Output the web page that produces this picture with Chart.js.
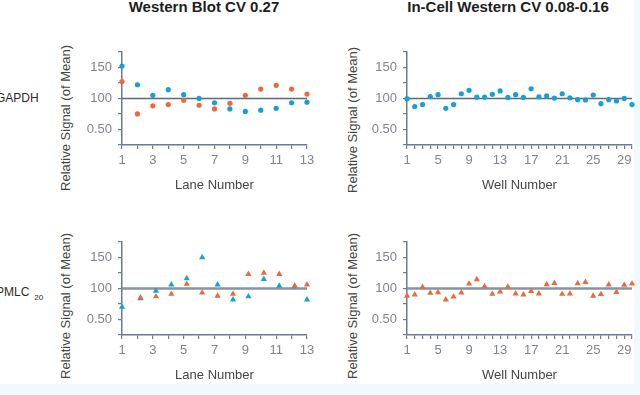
<!DOCTYPE html>
<html>
<head>
<meta charset="utf-8">
<script src="https://cdn.jsdelivr.net/npm/chart.js@4/dist/chart.umd.min.js"></script>
<style>
    body { margin: 0; width: 640px; height: 395px; background: #fff; position: relative; overflow: hidden; font-family: 'Liberation Sans', Arial, sans-serif; }
    .strip-right { position: absolute; left: 634px; top: 0; width: 6px; height: 395px; background: #f2f9fc; }
    .strip-bottom { position: absolute; left: 0; top: 384px; width: 640px; height: 11px; background: #f2f9fc; }
    .panel-title { position: absolute; top: -2px; font-weight: bold; font-size: 15px; color: #1e1e1e; white-space: nowrap; transform: translateX(-50%); }
    .row-label { position: absolute; left: -4px; font-size: 12px; color: #2a2a2a; white-space: nowrap; }
    .row-label sub { font-size: 8px; margin-left: 5px; vertical-align: -4px; }
    .y-title { position: absolute; font-size: 13px; color: #454545; white-space: nowrap; transform: translate(-50%, -50%) rotate(-90deg); }
    canvas { position: absolute; }
</style>
</head>
<body>
<div class="strip-right"></div>
<div class="strip-bottom"></div>
<div class="panel-title" style="left:204px;">Western Blot CV 0.27</div>
<div class="panel-title" style="left:508px;">In-Cell Western CV 0.08-0.16</div>
<div class="row-label" style="top:91px;">GAPDH</div>
<div class="row-label" style="top:285px;">PMLC<sub>20</sub></div>
<div class="y-title" style="left:65px;top:118px;">Relative Signal (of Mean)</div>
<div class="y-title" style="left:352px;top:120px;">Relative Signal (of Mean)</div>
<div class="y-title" style="left:65px;top:306px;">Relative Signal (of Mean)</div>
<div class="y-title" style="left:352px;top:306px;">Relative Signal (of Mean)</div>

<canvas id="wb-gapdh" width="240" height="159" style="left:80px;top:38px;"></canvas>
<canvas id="icw-gapdh" width="270" height="159" style="left:370px;top:38px;"></canvas>
<canvas id="wb-pmlc" width="240" height="159" style="left:80px;top:228px;"></canvas>
<canvas id="icw-pmlc" width="270" height="159" style="left:370px;top:228px;"></canvas>

<script>
// lanes / wells
const laneNumbers = [1, 2, 3, 4, 5, 6, 7, 8, 9, 10, 11, 12, 13];
const pmlcLanePositions = [1, 2.2, 3.2, 4.2, 5.2, 6.2, 7.2, 8.2, 9.2, 10.2, 11.2, 12.2, 13];
const wellNumbers = [1, 2, 3, 4, 5, 6, 7, 8, 9, 10, 11, 12, 13, 14, 15, 16, 17, 18, 19, 20, 21, 22, 23, 24, 25, 26, 27, 28, 29, 30];

// Western blot series
const wbGapdhBlue = [152, 122, 105, 114, 106, 100, 93, 83, 79, 81, 84, 93, 94];
const wbGapdhOrange = [127, 75, 88, 90, 97, 89, 83, 92, 105, 115, 121, 115, 107];
const wbPmlcBlue = [70, 84, 96, 106, 116, 150, 106, 82, 87, 115, 104, 103, 82];
const wbPmlcOrange = [null, 85, 87, 91, 107, 93, 88, 91, 123, 125, 123, 104, 106];

// In-Cell Western series
const icwGapdh = [99.5, 87, 90, 103, 106, 84, 90, 107.5, 113, 102, 102, 106.5, 112, 101.5, 106, 101.5, 115.5, 102.5, 104, 100.5, 107.5, 101, 98, 97.5, 105.5, 91.5, 98, 96, 100, 90];
const icwPmlc = [88, 90, 102, 92.5, 93.5, 82, 86.5, 93, 107.5, 114.5, 103, 91, 94.5, 102.5, 91.5, 90, 95.5, 91.5, 106.5, 108.5, 91, 91.5, 108, 110, 88, 90.5, 106, 94, 105.5, 107.5];

// ticks
const yTickValues = [50, 100, 150];
const yTickLabels = ['0.50', '100', '150'];
const laneTickLabels = [1, 3, 5, 7, 9, 11, 13];
const wellTickLabels = [1, 5, 9, 13, 17, 21, 25, 29];
const referenceLevel = 100;

const BLUE = '#17a0d8';
const ORANGE = '#e96a3c';
const AXIS = '#6c7b8d';
const TICK_TEXT = '#80848f';

const refLinePlugin = {
    id: 'refLine',
    beforeDatasetsDraw(chart, args, opts) {
        const ctx = chart.ctx;
        const y = chart.scales.y.getPixelForValue(opts.value);
        ctx.save();
        ctx.strokeStyle = opts.color;
        ctx.lineWidth = opts.width;
        ctx.beginPath();
        ctx.moveTo(chart.chartArea.left, y);
        ctx.lineTo(chart.chartArea.right, y);
        ctx.stroke();
        ctx.restore();
    }
};

document.addEventListener('DOMContentLoaded', () => {
    renderPanel('wb-gapdh', {
        xs: laneNumbers, xMax: 13, xLabels: laneTickLabels, xTitle: 'Lane Number', yWidth: 42, padRight: 13,
        series: [
            { values: wbGapdhBlue, color: BLUE, style: 'circle' },
            { values: wbGapdhOrange, color: ORANGE, style: 'circle' }
        ],
        refColor: '#5a6a7d', refWidth: 1.5
    });
    renderPanel('icw-gapdh', {
        xs: wellNumbers, xMax: 30, xLabels: wellTickLabels, xTitle: 'Well Number', yWidth: 37, padRight: 8,
        series: [{ values: icwGapdh, color: BLUE, style: 'circle' }],
        refColor: '#5a6a7d', refWidth: 1.5
    });
    renderPanel('wb-pmlc', {
        xs: pmlcLanePositions, xMax: 13, xLabels: laneTickLabels, xTitle: 'Lane Number', yWidth: 42, padRight: 13,
        series: [
            { values: wbPmlcOrange, color: ORANGE, style: 'triangle' },
            { values: wbPmlcBlue, color: BLUE, style: 'triangle' }
        ],
        refColor: '#8593a2', refWidth: 2.5
    });
    renderPanel('icw-pmlc', {
        xs: wellNumbers, xMax: 30, xLabels: wellTickLabels, xTitle: 'Well Number', yWidth: 37, padRight: 8,
        series: [{ values: icwPmlc, color: ORANGE, style: 'triangle' }],
        refColor: '#8593a2', refWidth: 2.5
    });
});

function renderPanel(id, cfg) {
    const ctx = document.getElementById(id).getContext('2d');
    const datasets = cfg.series.map(s => ({
        data: s.values.map((v, i) => ({ x: cfg.xs[i], y: v })),
        backgroundColor: s.color,
        borderWidth: 0,
        pointStyle: s.style,
        pointRadius: s.style === 'triangle' ? 3.6 : 2.6,
        clip: false
    }));

    new Chart(ctx, {
        type: 'scatter',
        data: { datasets: datasets },
        plugins: [refLinePlugin],
        options: {
            responsive: false,
            animation: false,
            devicePixelRatio: 1,
            layout: { padding: { top: 0, right: cfg.padRight, left: 0, bottom: 0 } },
            plugins: {
                legend: { display: false },
                tooltip: { enabled: false },
                refLine: { value: referenceLevel, color: cfg.refColor, width: cfg.refWidth }
            },
            scales: {
                x: {
                    type: 'linear',
                    min: 1,
                    max: cfg.xMax,
                    afterFit: scale => { scale.height = 52; },
                    border: { color: AXIS, width: 1.5 },
                    grid: { drawOnChartArea: false, tickLength: 4, color: AXIS, lineWidth: 1.2 },
                    ticks: {
                        stepSize: 1,
                        autoSkip: false,
                        maxRotation: 0,
                        padding: 4,
                        color: TICK_TEXT,
                        font: { family: "'Liberation Sans', Arial", size: 13 },
                        callback: v => cfg.xLabels.includes(v) ? String(v) : ''
                    },
                    title: {
                        display: true,
                        text: cfg.xTitle,
                        color: '#454545',
                        font: { family: "'Liberation Sans', Arial", size: 13 }
                    }
                },
                y: {
                    min: 25,
                    max: 175,
                    afterFit: scale => { scale.width = cfg.yWidth; },
                    border: { color: AXIS, width: 1.5 },
                    grid: { drawOnChartArea: false, tickLength: 4, color: AXIS, lineWidth: 1.2 },
                    ticks: {
                        stepSize: 25,
                        autoSkip: false,
                        padding: 6,
                        color: TICK_TEXT,
                        font: { family: "'Liberation Sans', Arial", size: 13 },
                        callback: v => {
                            const i = yTickValues.indexOf(v);
                            return i >= 0 ? yTickLabels[i] : '';
                        }
                    }
                }
            }
        }
    });
}
</script>
</body>
</html>
